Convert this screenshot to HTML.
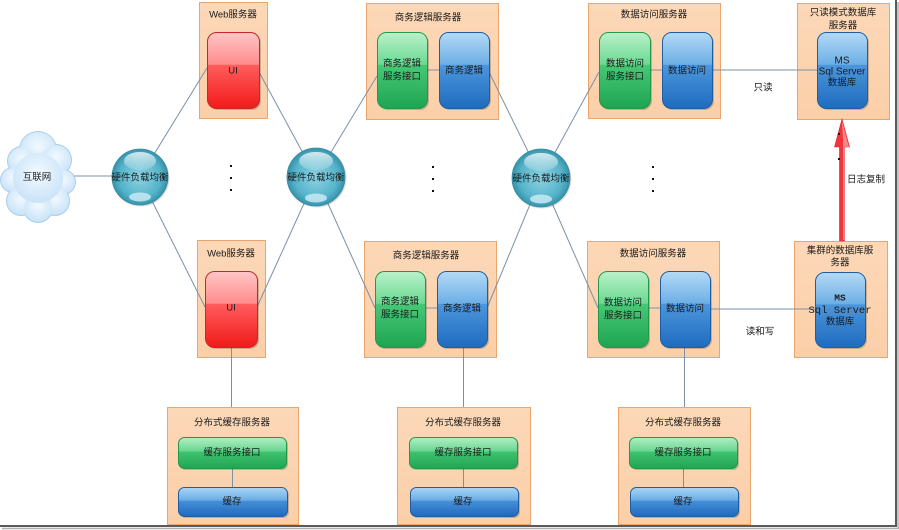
<!DOCTYPE html>
<html><head><meta charset="utf-8">
<style>
html,body{margin:0;padding:0;background:#fff;}
svg{display:block;}
text{font-family:"Liberation Sans","Noto Sans CJK SC",sans-serif;font-size:9.5px;fill:#1a1a1a;}
.mono{font-family:"Liberation Mono","Noto Sans CJK SC",monospace;}
</style></head>
<body>
<svg width="899" height="530" viewBox="0 0 899 530" xmlns="http://www.w3.org/2000/svg">
<defs>
<linearGradient id="gRed" x1="0" y1="0" x2="0" y2="1">
<stop offset="0" stop-color="#ffc6c6"/><stop offset="0.42" stop-color="#ff8c8c"/>
<stop offset="0.43" stop-color="#ff5c5c"/><stop offset="1" stop-color="#f21a1a"/></linearGradient>
<linearGradient id="gGreen" x1="0" y1="0" x2="0" y2="1">
<stop offset="0" stop-color="#baf1ca"/><stop offset="0.42" stop-color="#6ad992"/>
<stop offset="0.43" stop-color="#47c876"/><stop offset="1" stop-color="#1ea551"/></linearGradient>
<linearGradient id="gBlue" x1="0" y1="0" x2="0" y2="1">
<stop offset="0" stop-color="#b4daf6"/><stop offset="0.42" stop-color="#6cafe6"/>
<stop offset="0.43" stop-color="#4c96dc"/><stop offset="1" stop-color="#1f6bbf"/></linearGradient>
<linearGradient id="gGreenBar" x1="0" y1="0" x2="0" y2="1">
<stop offset="0" stop-color="#b2efc4"/><stop offset="0.45" stop-color="#66d68e"/>
<stop offset="0.46" stop-color="#3fc36f"/><stop offset="1" stop-color="#21a553"/></linearGradient>
<linearGradient id="gBlueBar" x1="0" y1="0" x2="0" y2="1">
<stop offset="0" stop-color="#acd6f5"/><stop offset="0.45" stop-color="#68ace4"/>
<stop offset="0.46" stop-color="#4690da"/><stop offset="1" stop-color="#1f69bc"/></linearGradient>
<linearGradient id="gBox" x1="0" y1="0" x2="0" y2="1">
<stop offset="0" stop-color="#fcd8b8"/><stop offset="1" stop-color="#fbcfa8"/></linearGradient>
<radialGradient id="gBall" cx="0.5" cy="0.5" r="0.5">
<stop offset="0" stop-color="#8ed3e3"/><stop offset="0.75" stop-color="#55b3c9"/><stop offset="1" stop-color="#3592aa"/></radialGradient>
<linearGradient id="gHi" x1="0" y1="0" x2="0" y2="1">
<stop offset="0" stop-color="#fff" stop-opacity="0.75"/><stop offset="1" stop-color="#fff" stop-opacity="0.15"/></linearGradient>
<radialGradient id="gCloud" cx="0.5" cy="0.4" r="0.6">
<stop offset="0" stop-color="#f2f9ff"/><stop offset="1" stop-color="#c9e3f8"/></radialGradient>
</defs>

<!-- frame -->
<line x1="896" y1="0" x2="896" y2="527" stroke="#5a5a5a" stroke-width="2"/>
<line x1="898" y1="2" x2="898" y2="529" stroke="#b0b0b0" stroke-width="1.5"/>
<line x1="0" y1="526" x2="897" y2="526" stroke="#5a5a5a" stroke-width="2"/>
<line x1="2" y1="528.5" x2="899" y2="528.5" stroke="#b0b0b0" stroke-width="1.5"/>

<!-- containers -->
<g fill="url(#gBox)" stroke="#eaa56c" stroke-width="1">
<rect x="199.5" y="2.5" width="68" height="116"/>
<rect x="197.5" y="240.5" width="68" height="117"/>
<rect x="366.5" y="3.5" width="132" height="116"/>
<rect x="364.5" y="241.5" width="132" height="116"/>
<rect x="588.5" y="3.5" width="132" height="115"/>
<rect x="587.5" y="241.5" width="132" height="116"/>
<rect x="797.5" y="3.5" width="92" height="116"/>
<rect x="794.5" y="241.5" width="93" height="116"/>
<rect x="167.5" y="407.5" width="131" height="117"/>
<rect x="397.5" y="407.5" width="133" height="117"/>
<rect x="618.5" y="407.5" width="132" height="117"/>
</g>

<!-- connectors -->
<g stroke="#7d90a7" stroke-width="1" fill="none">
<line x1="74" y1="176" x2="120" y2="176"/>
<line x1="140" y1="177" x2="207" y2="68"/>
<line x1="140" y1="177" x2="205" y2="307"/>
<line x1="259" y1="72" x2="316" y2="177"/>
<line x1="257" y1="307" x2="316" y2="177"/>
<line x1="316" y1="177" x2="377" y2="76"/>
<line x1="316" y1="177" x2="375" y2="308"/>
<line x1="489" y1="72" x2="541" y2="178"/>
<line x1="487" y1="308" x2="541" y2="178"/>
<line x1="541" y1="178" x2="599" y2="72"/>
<line x1="541" y1="178" x2="598" y2="308"/>
<line x1="427" y1="70" x2="439" y2="70"/>
<line x1="425" y1="308" x2="437" y2="308"/>
<line x1="650" y1="70" x2="662" y2="70"/>
<line x1="648" y1="308" x2="660" y2="308"/>
<line x1="712" y1="70" x2="817" y2="70"/>
<line x1="710" y1="309" x2="815" y2="309"/>
<line x1="231.5" y1="347" x2="231.5" y2="407"/>
<line x1="463.5" y1="347" x2="463.5" y2="407"/>
<line x1="684.5" y1="347" x2="684.5" y2="407"/>
<line x1="232.5" y1="468" x2="232.5" y2="487"/>
<line x1="463.5" y1="468" x2="463.5" y2="487"/>
<line x1="683.5" y1="468" x2="683.5" y2="487"/>
</g>

<!-- cloud -->
<g>
<g fill="#a9cdec">
<circle cx="38" cy="150" r="19"/><circle cx="22" cy="161" r="15"/><circle cx="56" cy="160" r="16"/>
<circle cx="13" cy="180" r="13"/><circle cx="63" cy="182" r="13"/><circle cx="21" cy="201" r="15"/>
<circle cx="55" cy="201" r="15"/><circle cx="38" cy="208" r="15"/><circle cx="38" cy="178" r="26"/>
</g>
<g fill="url(#gCloud)">
<circle cx="38" cy="150" r="18"/><circle cx="22" cy="161" r="14"/><circle cx="56" cy="160" r="15"/>
<circle cx="13" cy="180" r="12"/><circle cx="63" cy="182" r="12"/><circle cx="21" cy="201" r="14"/>
<circle cx="55" cy="201" r="14"/><circle cx="38" cy="208" r="14"/><circle cx="38" cy="178" r="25"/>
</g>
<text x="37" y="180" text-anchor="middle">互联网</text>
</g>

<!-- balls -->
<g>
<circle cx="141" cy="178" r="28.5" fill="#000" opacity="0.12"/>
<circle cx="140" cy="177" r="28" fill="url(#gBall)" stroke="#3a8ea5" stroke-width="0.8"/>
<ellipse cx="140" cy="161" rx="16" ry="9" fill="url(#gHi)"/>
<ellipse cx="140" cy="197" rx="11" ry="4.5" fill="#cdeef6" opacity="0.8"/>
<text x="140" y="180.5" text-anchor="middle">硬件负载均衡</text>

<circle cx="317" cy="178" r="29.5" fill="#000" opacity="0.12"/>
<circle cx="316" cy="177" r="29" fill="url(#gBall)" stroke="#3a8ea5" stroke-width="0.8"/>
<ellipse cx="316" cy="161" rx="17" ry="9" fill="url(#gHi)"/>
<ellipse cx="316" cy="198" rx="11" ry="4.5" fill="#cdeef6" opacity="0.8"/>
<text x="316" y="180.5" text-anchor="middle">硬件负载均衡</text>

<circle cx="542" cy="179" r="29.5" fill="#000" opacity="0.12"/>
<circle cx="541" cy="178" r="29" fill="url(#gBall)" stroke="#3a8ea5" stroke-width="0.8"/>
<ellipse cx="541" cy="162" rx="17" ry="9" fill="url(#gHi)"/>
<ellipse cx="541" cy="199" rx="11" ry="4.5" fill="#cdeef6" opacity="0.8"/>
<text x="541" y="181.5" text-anchor="middle">硬件负载均衡</text>
</g>

<!-- shadows for inner shapes -->
<g fill="#000" opacity="0.18">
<rect x="209" y="34" width="52" height="76" rx="9"/>
<rect x="207" y="273" width="52" height="76" rx="9"/>
<rect x="379" y="34" width="50" height="76" rx="9"/>
<rect x="441" y="34" width="50" height="76" rx="9"/>
<rect x="377" y="273" width="50" height="76" rx="9"/>
<rect x="439" y="273" width="50" height="76" rx="9"/>
<rect x="601" y="34" width="51" height="76" rx="9"/>
<rect x="664" y="34" width="50" height="76" rx="9"/>
<rect x="600" y="273" width="50" height="76" rx="9"/>
<rect x="662" y="273" width="50" height="76" rx="9"/>
<rect x="819" y="34" width="50" height="76" rx="9"/>
<rect x="817" y="274" width="50" height="75" rx="9"/>
<rect x="180" y="439" width="108" height="31" rx="6"/>
<rect x="180" y="489" width="109" height="29" rx="6"/>
<rect x="411" y="439" width="108" height="31" rx="6"/>
<rect x="412" y="489" width="108" height="29" rx="6"/>
<rect x="631" y="439" width="108" height="31" rx="6"/>
<rect x="632" y="489" width="108" height="29" rx="6"/>
</g>

<!-- inner shapes -->
<g stroke-width="1">
<rect x="207.5" y="32.5" width="52" height="76" rx="9" fill="url(#gRed)" stroke="#c8262a"/>
<rect x="205.5" y="271.5" width="52" height="76" rx="9" fill="url(#gRed)" stroke="#c8262a"/>
<rect x="377.5" y="32.5" width="50" height="76" rx="9" fill="url(#gGreen)" stroke="#22994a"/>
<rect x="439.5" y="32.5" width="50" height="76" rx="9" fill="url(#gBlue)" stroke="#1d5ea3"/>
<rect x="375.5" y="271.5" width="50" height="76" rx="9" fill="url(#gGreen)" stroke="#22994a"/>
<rect x="437.5" y="271.5" width="50" height="76" rx="9" fill="url(#gBlue)" stroke="#1d5ea3"/>
<rect x="599.5" y="32.5" width="51" height="76" rx="9" fill="url(#gGreen)" stroke="#22994a"/>
<rect x="662.5" y="32.5" width="50" height="76" rx="9" fill="url(#gBlue)" stroke="#1d5ea3"/>
<rect x="598.5" y="271.5" width="50" height="76" rx="9" fill="url(#gGreen)" stroke="#22994a"/>
<rect x="660.5" y="271.5" width="50" height="76" rx="9" fill="url(#gBlue)" stroke="#1d5ea3"/>
<rect x="817.5" y="32.5" width="50" height="76" rx="9" fill="url(#gBlue)" stroke="#1d5ea3"/>
<rect x="815.5" y="272.5" width="50" height="75" rx="9" fill="url(#gBlue)" stroke="#1d5ea3"/>
<rect x="178.5" y="437.5" width="108" height="31" rx="6" fill="url(#gGreenBar)" stroke="#22994a"/>
<rect x="178.5" y="487.5" width="109" height="29" rx="6" fill="url(#gBlueBar)" stroke="#1d5ea3"/>
<rect x="409.5" y="437.5" width="108" height="31" rx="6" fill="url(#gGreenBar)" stroke="#22994a"/>
<rect x="410.5" y="487.5" width="108" height="29" rx="6" fill="url(#gBlueBar)" stroke="#1d5ea3"/>
<rect x="629.5" y="437.5" width="108" height="31" rx="6" fill="url(#gGreenBar)" stroke="#22994a"/>
<rect x="630.5" y="487.5" width="108" height="29" rx="6" fill="url(#gBlueBar)" stroke="#1d5ea3"/>
</g>

<!-- red arrow -->
<polygon points="839.5,241 844.5,241 844.5,147 849.5,147 842,119 834.5,147 839.5,147" fill="#f2353b" stroke="#e02029" stroke-width="0.6"/>
<polygon points="842,121 849,147 844.5,147 844.5,240 843,240 843,140" fill="#ff9aa0" opacity="0.8"/>

<!-- dots -->
<g fill="#111">
<rect x="230" y="165" width="2" height="2"/><rect x="230" y="177" width="2" height="2"/><rect x="230" y="189" width="2" height="2"/>
<rect x="432" y="166" width="2" height="2"/><rect x="432" y="178" width="2" height="2"/><rect x="432" y="190" width="2" height="2"/>
<rect x="652" y="166" width="2" height="2"/><rect x="652" y="178" width="2" height="2"/><rect x="652" y="190" width="2" height="2"/>
<rect x="838" y="133" width="2" height="2"/><rect x="838" y="158" width="2" height="2"/>
</g>

<!-- labels -->
<g text-anchor="middle">
<text x="233" y="17.5">Web服务器</text>
<text x="233" y="73.5">UI</text>
<text x="231" y="256.5">Web服务器</text>
<text x="231" y="310.5">UI</text>

<text x="428" y="20.5">商务逻辑服务器</text>
<text x="402" y="66.5">商务逻辑</text>
<text x="402" y="79.5">服务接口</text>
<text x="464" y="73.5">商务逻辑</text>
<text x="426" y="258.5">商务逻辑服务器</text>
<text x="400" y="304.5">商务逻辑</text>
<text x="400" y="317.5">服务接口</text>
<text x="462" y="311.5">商务逻辑</text>

<text x="654" y="17.5">数据访问服务器</text>
<text x="625" y="66.5">数据访问</text>
<text x="625" y="79.5">服务接口</text>
<text x="687" y="73.5">数据访问</text>
<text x="653" y="256.5">数据访问服务器</text>
<text x="623" y="305.5">数据访问</text>
<text x="623" y="318.5">服务接口</text>
<text x="685" y="311.5">数据访问</text>

<text x="843" y="15.5">只读模式数据库</text>
<text x="843" y="28.5">服务器</text>
<text x="842" y="63.5" style="font-size:10px">MS</text>
<text x="842" y="74.5" style="font-size:10px">Sql Server</text>
<text x="842" y="85.5">数据库</text>

<text x="840" y="253.5">集群的数据库服</text>
<text x="840" y="265.5">务器</text>
<text x="840" y="300.5" class="mono" style="font-weight:bold;font-size:9.5px">MS</text>
<text x="840" y="313" class="mono" style="font-size:10.5px">Sql Server</text>
<text x="840" y="324.5">数据库</text>

<text x="763" y="90.5">只读</text>
<text x="760" y="334.5">读和写</text>
<text x="866" y="182.5">日志复制</text>

<text x="232" y="425.5">分布式缓存服务器</text>
<text x="232" y="455.5">缓存服务接口</text>
<text x="232" y="504.5">缓存</text>
<text x="463" y="425.5">分布式缓存服务器</text>
<text x="463" y="455.5">缓存服务接口</text>
<text x="463" y="504.5">缓存</text>
<text x="683" y="425.5">分布式缓存服务器</text>
<text x="683" y="455.5">缓存服务接口</text>
<text x="683" y="504.5">缓存</text>
</g>
</svg>
</body></html>
